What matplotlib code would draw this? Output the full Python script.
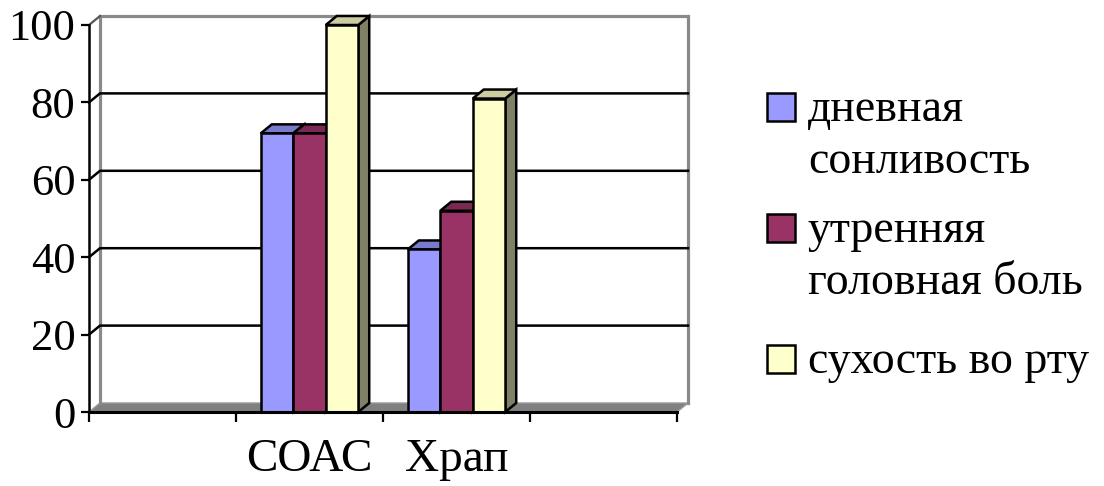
import numpy as np
import matplotlib.pyplot as plt
from matplotlib.patches import Polygon, Rectangle

plt.rcParams['font.family'] = ['Liberation Serif', 'DejaVu Serif']

# данные
categories = ['', 'СОАС', 'Храп', '']
series = ['дневная\nсонливость', 'утренняя\nголовная боль', 'сухость во рту']
day_sleepiness = [np.nan, 72, 42, np.nan]
morning_headache = [np.nan, 72, 52, np.nan]
dry_mouth = [np.nan, 100, 81, np.nan]
colors = ['#9999FF', '#993366', '#FFFFCC']
yticks = [0, 20, 40, 60, 80, 100]

W, H = 1104, 486
fig = plt.figure(figsize=(W / 100, H / 100), dpi=100)
# передняя плоскость графика: x 89..677 px, y 412..25 px
ax = fig.add_axes([89 / W, 1 - 412 / H, 588 / W, 387 / H])
n = len(categories)
ax.set_xlim(0, n)
ax.set_ylim(0, 100)

# смещение "глубины" псевдо-3D
dx = 11 * n / 588
dy = 9 * 100 / 387
gray = '#8a8a8a'

# пол
ax.add_patch(Polygon([(0, 0), (n, 0), (n + dx, dy), (dx, dy)], closed=True,
                     fc='#808080', ec='#999999', lw=1, clip_on=False, zorder=1))
# края задней стенки
ax.plot([dx, dx, n + dx, n + dx], [dy, 100 + dy, 100 + dy, dy], color=gray, lw=2.3,
        clip_on=False, zorder=1, solid_joinstyle='miter')
ax.plot([0, dx], [100, 100 + dy], color='#555555', lw=1.6, clip_on=False, zorder=1)
# сетка
for v in yticks[1:-1]:
    ax.plot([0, dx, n + dx], [v, v + dy, v + dy], color='black', lw=1.8,
            clip_on=False, zorder=1)

# столбцы
values = [day_sleepiness, morning_headache, dry_mouth]
w = 0.221
x = np.arange(n) + 0.5
for i, (vals, c) in enumerate(zip(values, colors)):
    xs = x - 1.5 * w + i * w
    z = 3 + i * 3
    rgb = np.array(plt.matplotlib.colors.to_rgb(c))
    for x0, h in zip(xs, vals):
        if np.isnan(h):
            continue
        side = [(x0 + w, 0), (x0 + w, h), (x0 + w + dx, h + dy), (x0 + w + dx, dy)]
        top = [(x0, h), (x0 + w, h), (x0 + w + dx, h + dy), (x0 + dx, h + dy)]
        ax.add_patch(Polygon(side, closed=True, fc=rgb * 0.5, ec='black', lw=1.8,
                             clip_on=False, zorder=z))
        ax.add_patch(Polygon(top, closed=True, fc=rgb * 0.8, ec='black', lw=1.8,
                             clip_on=False, zorder=z + 1))
    ax.bar(xs, vals, width=w, align='edge', color=c, edgecolor='black', lw=1.8,
           zorder=z + 2, clip_on=False)

# оси
for s in ['top', 'right']:
    ax.spines[s].set_visible(False)
ax.spines['left'].set_linewidth(1.8)
ax.spines['bottom'].set_linewidth(2.2)
ax.spines['left'].set_zorder(20)
ax.spines['bottom'].set_zorder(20)

ax.set_yticks(yticks)
ax.tick_params(axis='y', direction='out', length=5.8, width=1.6, labelsize=32, pad=4)
ax.set_xticks(np.arange(n + 1), [''] * (n + 1))
ax.set_xticks(x, categories, minor=True)
ax.tick_params(axis='x', which='major', direction='out', length=7.2, width=1.6)
ax.tick_params(axis='x', which='minor', length=0, labelsize=34, pad=19)

# легенда
leg_tops = [93, 214, 345]
for name, c, top in zip(series, colors, leg_tops):
    fig.add_artist(Rectangle((767 / W, 1 - (top + 28) / H), 28 / W, 28 / H,
                             transform=fig.transFigure, fc=c, ec='black', lw=1.8))
    for k, line in enumerate(name.split('\n')):
        fig.text(808 / W, 1 - (top + 28 + k * 52) / H, line, va='baseline',
                 fontsize=33)

fig.savefig('out.png', dpi=100)
